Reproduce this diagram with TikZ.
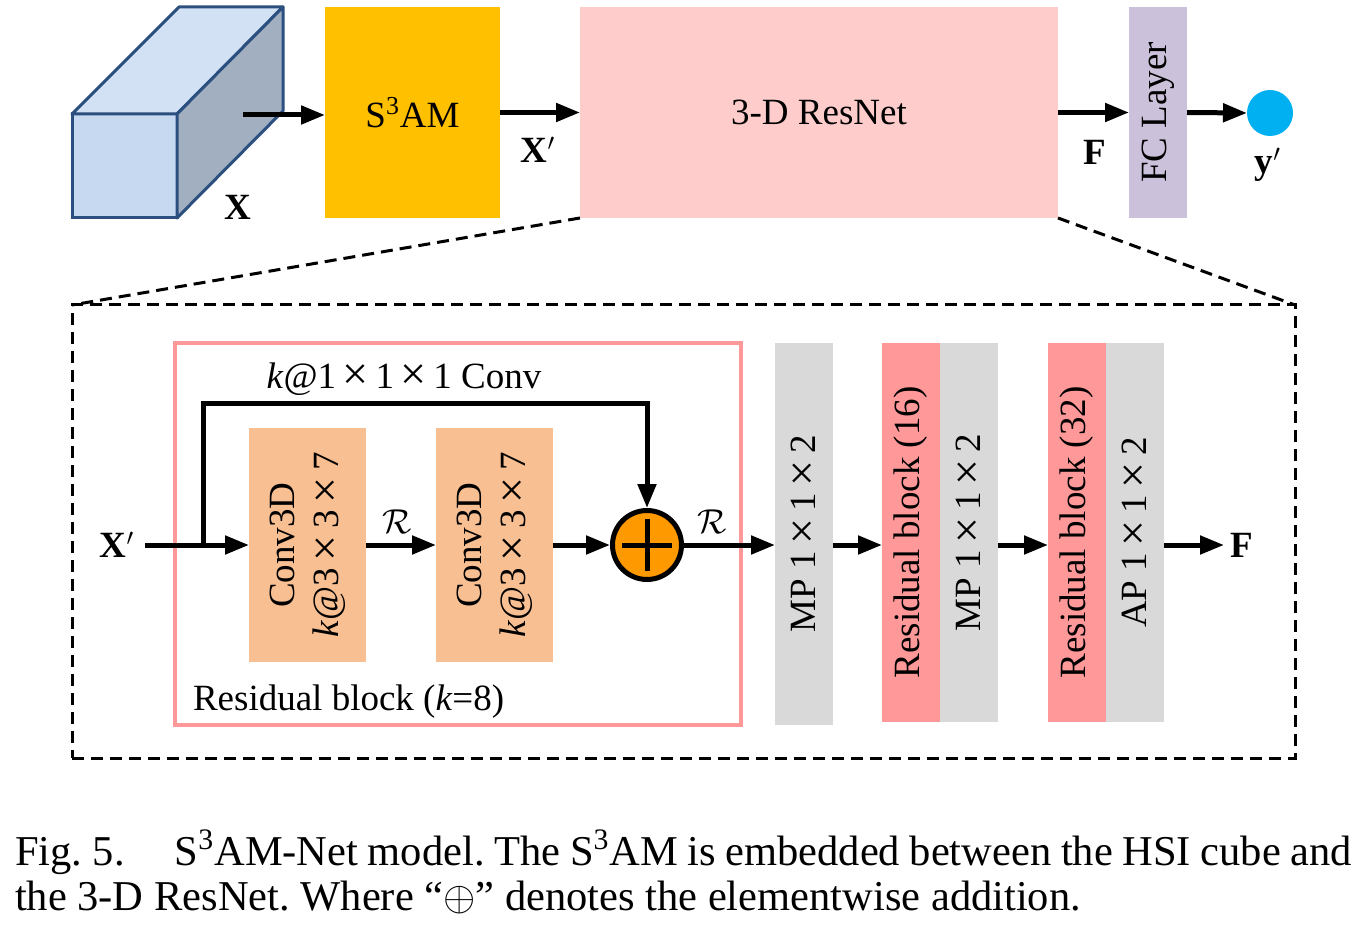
\documentclass[tikz,border=0pt]{standalone}
\usepackage{fontspec}
\setmainfont{Liberation Serif}
\usetikzlibrary{arrows.meta,calc}
\definecolor{cubefront}{HTML}{C6D9F1}
\definecolor{cubetop}{HTML}{D2E1F3}
\definecolor{cuberight}{HTML}{A1AFC1}
\definecolor{cubeedge}{HTML}{2B4F7E}
\definecolor{samcol}{HTML}{FFC000}
\definecolor{rescol}{HTML}{FFCCCC}
\definecolor{fccol}{HTML}{CCC1DA}
\definecolor{outcol}{HTML}{00B0F0}
\definecolor{convcol}{HTML}{F8BF92}
\definecolor{pluscol}{HTML}{FF9900}
\definecolor{graycol}{HTML}{D9D9D9}
\definecolor{pinkcol}{HTML}{FF9999}
\newcommand\tms{\kern0.18em\raisebox{-0.05em}{\scalebox{1.25}{×}}\kern0.18em}
\begin{document}
\frenchspacing
\begin{tikzpicture}[x=0.5pt,y=-0.5pt,
  font=\fontsize{18.5}{22}\selectfont,
  arr/.style={line width=2.5pt,-{Triangle[length=12pt,width=9pt]}},
  blk/.style={rectangle,inner sep=0pt,outer sep=0pt,draw=none},
  lbl/.style={inner sep=0pt,outer sep=0pt},
  rot/.style={rotate=90,inner sep=0pt,align=center},
  dsh/.style={line width=1.5pt,dash pattern=on 6pt off 3.5pt}]
\useasboundingbox (0,0) rectangle (1360,925);

% ---------- top row ----------
\filldraw[fill=cubefront,draw=cubeedge,line width=1.5pt] (72,114) rectangle (177,218);
\filldraw[fill=cubetop,draw=cubeedge,line width=1.5pt,line join=round] (72,114) -- (177,114) -- (283,7) -- (179,7) -- cycle;
\filldraw[fill=cuberight,draw=cubeedge,line width=1.5pt,line join=round] (177,114) -- (283,7) -- (283,111) -- (177,218) -- cycle;
\coordinate (cubeout) at (243,115);
\node[lbl] (xlab) at (238,207) {\textbf{X}};

\node[blk,fill=samcol,minimum width=87.5pt,minimum height=105.5pt] (sam) at (412.5,112.5) {S\textsuperscript{3}AM};
\node[blk,fill=rescol,minimum width=239pt,minimum height=105.5pt] (resnet) at (819,112.5) {3-D ResNet};
\node[blk,fill=fccol,minimum width=29pt,minimum height=105.5pt] (fc) at (1158,112.5) {};
\node[rot] (fclab) at (fc.center) {FC Layer};
\node[circle,fill=outcol,minimum size=23pt,inner sep=0pt,outer sep=0pt] (yout) at (1270,113) {};

\draw[arr] (cubeout) -- (cubeout -| sam.west);
\draw[arr] (sam.east) -- (resnet.west);
\draw[arr] (resnet.east) -- (fc.west);
\draw[arr] (fc.east) -- (yout.west);

\node[lbl] (xplab) at (538,150) {\textbf{X}$'$};
\node[lbl] (flab) at (1095,152) {\textbf{F}};
\node[lbl] (yplab) at (1268,165) {\textbf{y}$'$};

% ---------- zoomed box ----------
\node[blk,draw=black,dsh,minimum width=611.5pt,minimum height=226.5pt] (zoom) at (683.5,531.5) {};
\draw[dsh] (resnet.south west) -- (zoom.north west);
\draw[dsh] (resnet.south east) -- (zoom.north east);

\node[blk,draw=pinkcol,line width=2pt,minimum width=283pt,minimum height=191pt] (resblk) at (458,534) {};
\node[lbl,anchor=base west] (reslab) at (193,710) {Residual block (\textit{k}=8)};
\node[lbl,anchor=base] (skiplab) at (404,388) {\textit{k}@1\tms1\tms1 Conv};

\node[blk,fill=convcol,minimum width=58.5pt,minimum height=117pt] (conv1) at (307.5,545) {};
\node[rot] (conv1lab) at (conv1.center) {Conv3D\\\textit{k}@3\tms3\tms7};
\node[blk,fill=convcol,minimum width=58.5pt,minimum height=117pt] (conv2) at (494.5,545) {};
\node[rot] (conv2lab) at (conv2.center) {Conv3D\\\textit{k}@3\tms3\tms7};

\node[circle,draw=black,fill=pluscol,line width=2.5pt,minimum size=34.5pt,inner sep=0pt] (plus) at (647,545) {};
\draw[line width=2.5pt] ($(plus.center)+(-25,0)$) -- ($(plus.center)+(25,0)$);
\draw[line width=2.5pt] ($(plus.center)+(0,-26)$) -- ($(plus.center)+(0,26)$);

\node[blk,fill=graycol,minimum width=29pt,minimum height=191pt] (mp1) at (804,534) {};
\node[rot] (mp1lab) at (mp1.center) {MP 1\tms1\tms2};
\node[blk,fill=pinkcol,minimum width=29pt,minimum height=189.5pt] (rb16) at (911,532.5) {};
\node[rot] (rb16lab) at (rb16.center) {Residual block (16)};
\node[blk,fill=graycol,minimum width=29pt,minimum height=189.5pt] (mp2) at (969,532.5) {};
\node[rot] (mp2lab) at (mp2.center) {MP 1\tms1\tms2};
\node[blk,fill=pinkcol,minimum width=29pt,minimum height=189.5pt] (rb32) at (1077,532.5) {};
\node[rot] (rb32lab) at (rb32.center) {Residual block (32)};
\node[blk,fill=graycol,minimum width=29pt,minimum height=189.5pt] (ap) at (1135,532.5) {};
\node[rot] (aplab) at (ap.center) {AP 1\tms1\tms2};

\node[lbl] (xin) at (117,545) {\textbf{X}$'$};
\node[lbl] (fout) at (1242,545) {\textbf{F}};
\coordinate (xinstart) at (145,545);
\coordinate (skipstart) at (203,545);
\coordinate (skiptop) at (203,403);

\draw[arr] (xinstart) -- (conv1.west);
\draw[line width=2.5pt,-{Triangle[length=12pt,width=9pt]}] (skipstart) -- (skiptop) -| (plus.north);
\draw[arr] (conv1.east) -- (conv2.west);
\node[lbl] (r1) at (397,522) {$\mathcal{R}$};
\draw[arr] (conv2.east) -- (plus.west);
\draw[arr] (plus.east) -- (plus.east -| mp1.west);
\node[lbl] (r2) at (712,522) {$\mathcal{R}$};
\draw[arr] (mp1.east |- plus) -- (plus -| rb16.west);
\draw[arr] (mp2.east |- plus) -- (plus -| rb32.west);
\coordinate (fend) at (1224,545);
\draw[arr] (ap.east |- plus) -- (fend);

% ---------- caption ----------
\node[lbl,anchor=base west,font=\fontsize{21.25}{25}\selectfont] (cap1) at (15,865) {Fig.~5.\hspace{25pt}\hbox to 588.5pt{S\textsuperscript{3}AM-Net model. The S\textsuperscript{3}AM is embedded between the HSI cube and}};
\node[lbl,anchor=base west,font=\fontsize{21.25}{25}\selectfont] (cap2) at (15,910) {the 3-D ResNet. Where “$\oplus$” denotes the elementwise addition.};
\end{tikzpicture}
\end{document}
